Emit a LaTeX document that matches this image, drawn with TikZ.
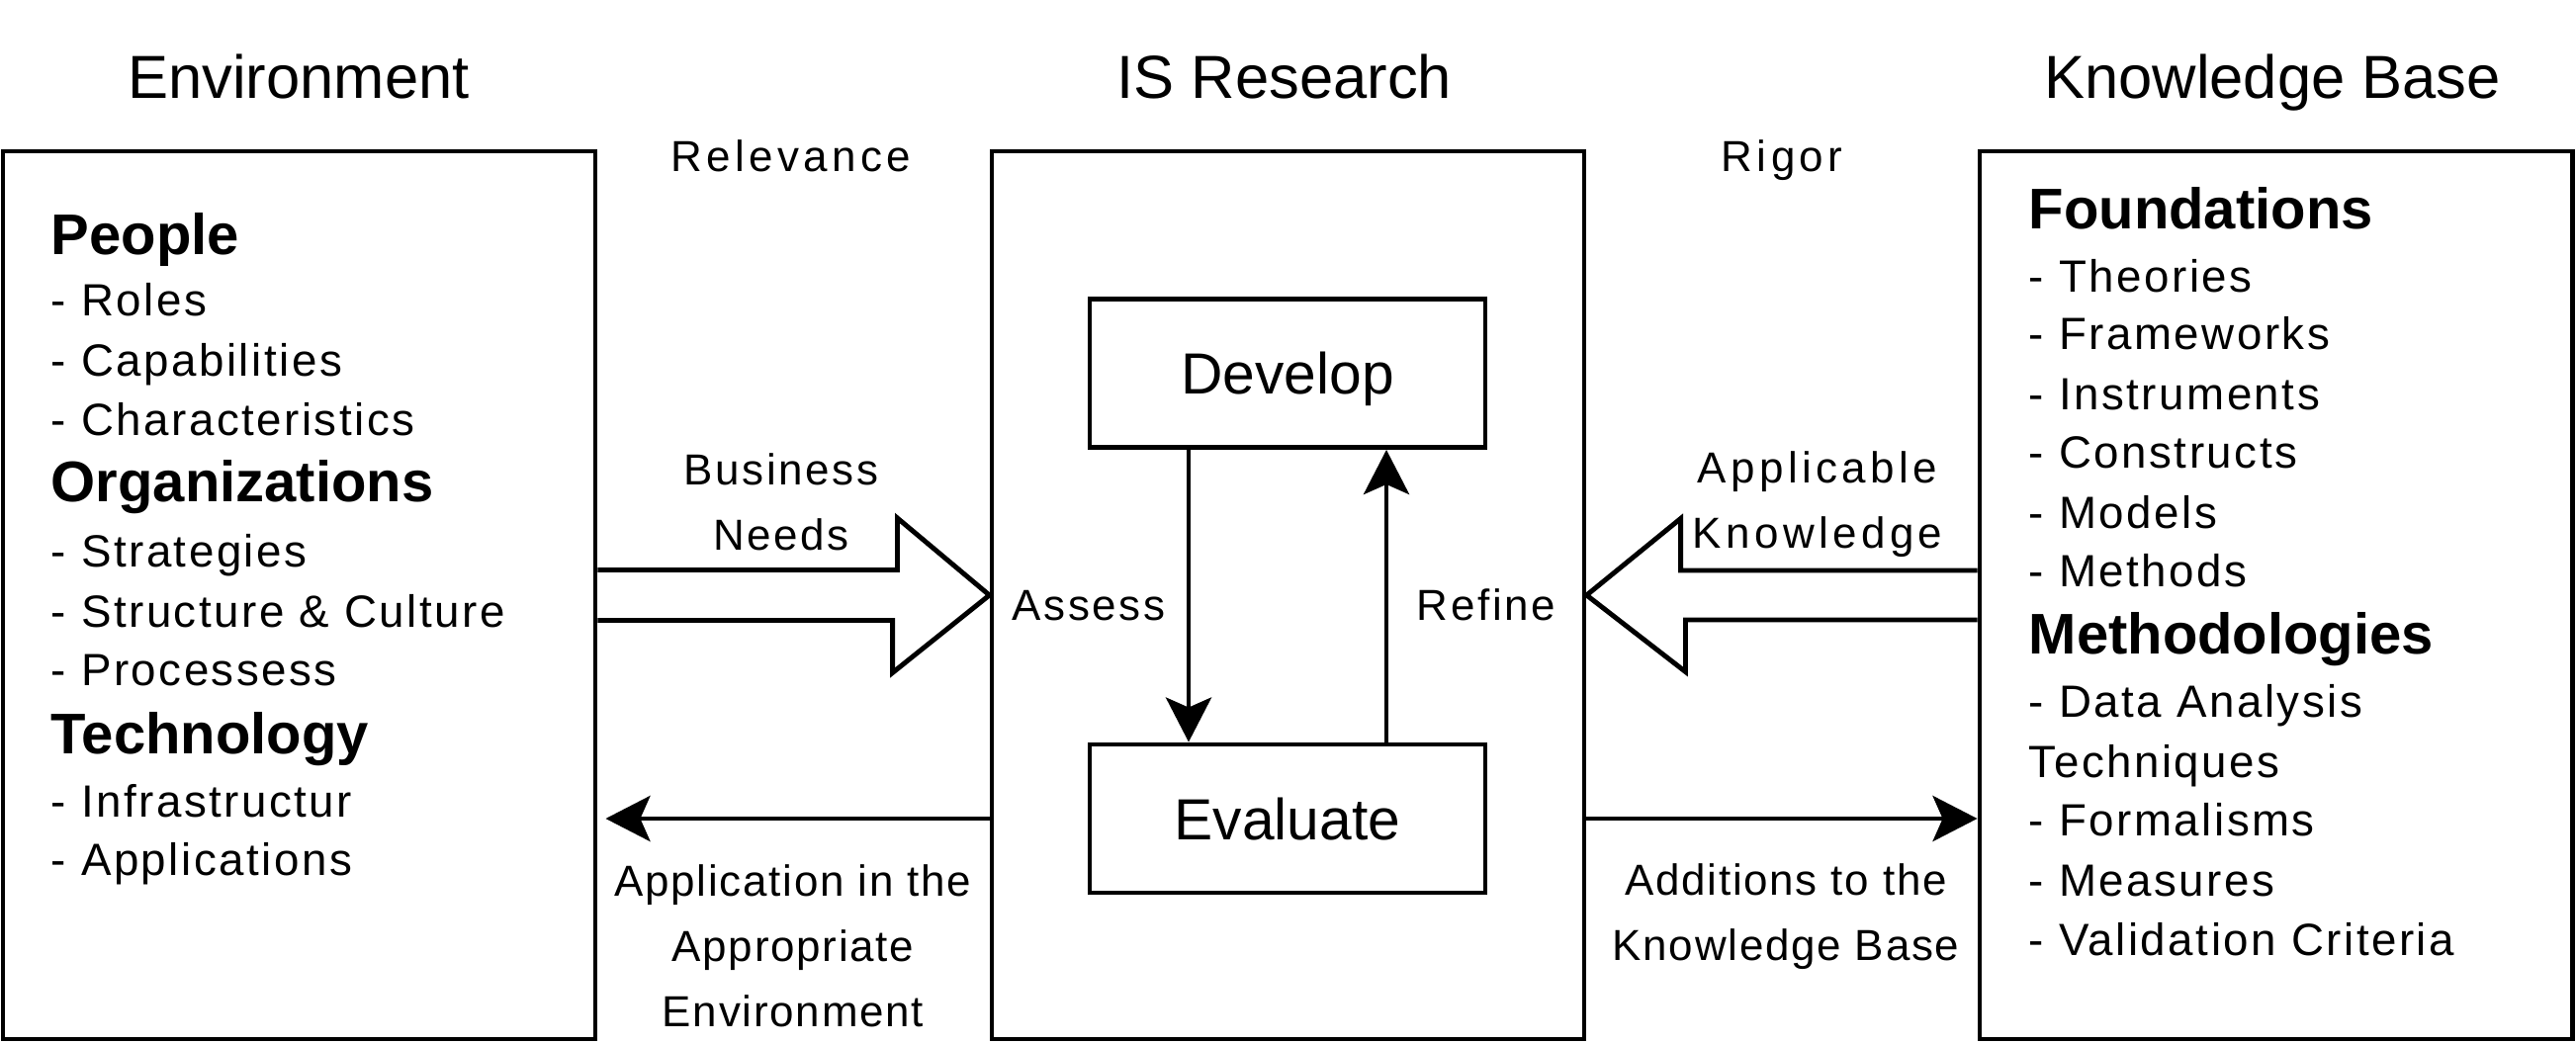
\documentclass[tikz,border=0pt]{standalone}
\usepackage{fontspec}
\setmainfont{Liberation Sans}
\newfontfamily\itemfont[LetterSpace=5.5]{Liberation Sans}
\newfontfamily\lblfont[LetterSpace=6]{Liberation Sans}
\newfontfamily\tagfont[LetterSpace=10]{Liberation Sans}
\newfontfamily\notefont[LetterSpace=4]{Liberation Sans}
\usetikzlibrary{arrows.meta,positioning}

\tikzset{
  box/.style={draw, line width=1.4pt, minimum width=5.99cm, minimum height=8.98cm, inner sep=0pt},
  proc/.style={draw, line width=1.4pt, minimum width=4cm, minimum height=1.5cm, text depth=0pt, font=\fontsize{16.7}{20}\selectfont},
  title/.style={anchor=base, inner sep=0pt, font=\fontsize{17.5}{21}\selectfont},
  head/.style={anchor=base west, inner sep=0pt, font=\fontsize{16.5}{20}\selectfont\bfseries},
  item/.style={anchor=base west, inner sep=0pt, font=\itemfont\fontsize{13}{16}\selectfont},
  lbl/.style={anchor=base, inner sep=0pt, align=center, font=\lblfont\fontsize{12.5}{18.7}\selectfont},
  tag/.style={lbl, font=\tagfont\fontsize{12.5}{18.7}\selectfont},
  note/.style={lbl, font=\notefont\fontsize{12.5}{18.7}\selectfont},
  flow/.style={line width=1.4pt, -{Stealth[length=4.5mm, width=4.6mm, inset=1mm]}},
  fat/.style={line width=1.4pt, line join=miter}
}

\begin{document}
\begin{tikzpicture}
        \useasboundingbox (0,0) rectangle (26.05,10.55);
        % the three columns
        \node[box] (env) at (3.025,4.53) {};
        \node[box] (isr) at (13.025,4.53) {};
        \node[box] (kb) at (23.015,4.53) {};
        \node[title] (envt) at (3.02,9.56) {Environment};
        \node[title] (isrt) at (12.99,9.56) {IS Research};
        \node[title] (kbt) at (22.98,9.56) {Knowledge Base};

        % develop / evaluate loop
        \node[proc] (dev) at (13.02,6.775) {Develop};
        \node[proc] (eval) at (13.02,2.27) {Evaluate};
        \draw[flow] ([xshift=-1cm]dev.south) -- ([xshift=-1cm]eval.north);
        \draw[flow] ([xshift=1cm]eval.north) -- ([xshift=1cm]dev.south);
        \node[lbl] (assess) at (11.01,4.28) {Assess};
        \node[lbl] (refine) at (15.03,4.28) {Refine};

        % environment list
        \node[head] (people) at (0.51,7.98) {People};
        \node[head] (orga) at (0.51,5.48) {Organizations};
        \node[head] (tech) at (0.51,2.93) {Technology};
        \foreach \y/\t [count=\i] in {7.36/Roles, 6.75/Capabilities, 6.15/Characteristics,
                4.82/Strategies, 4.21/Structure \& Culture, 3.62/Processess,
                2.29/Infrastructur, 1.70/Applications}
            \node[item] (env\i) at (0.51,\y) {- \t};

        % knowledge base list
        \node[head] (found) at (20.51,8.24) {Foundations};
        \node[head] (meth) at (20.51,3.94) {Methodologies};
        \foreach \y/\t [count=\i] in {7.60/- Theories, 7.02/- Frameworks, 6.41/- Instruments,
                5.82/- Constructs, 5.21/- Models, 4.62/- Methods, 3.30/- Data Analysis,
                2.69/Techniques, 2.10/- Formalisms, 1.49/- Measures, 0.89/- Validation Criteria}
            \node[item] (kb\i) at (20.51,\y) {\t};

        % relevance side
        \node[tag] (rel) at (8.0,8.82) {Relevance};
        \draw[fat] ([yshift=2.55mm]env.east) -- ++(3.03,0) -- ++(0,0.525) -- (isr.west)
            -- ++(-0.98,-0.785) -- ++(0,0.53) -- ([yshift=-2.55mm]env.east);
        \node[lbl] (needs) at (7.90,4.99) {Business\\Needs};
        \draw[flow] ([yshift=-2.26cm]isr.west) -- ([yshift=-2.26cm,xshift=0.08cm]env.east);
        \node[note] (appl) at (8.02,0.17) {Application in the\\Appropriate\\Environment};

        % rigor side
        \node[tag] (rig) at (18.02,8.82) {Rigor};
        \draw[fat] ([yshift=2.5mm]kb.west) -- ++(-3.0,0) -- ++(0,0.525) -- (isr.east)
            -- ++(1.0,-0.775) -- ++(0,0.525) -- ([yshift=-2.5mm]kb.west);
        \node[tag] (know) at (18.38,5.01) {Applicable\\Knowledge};
        \draw[flow] ([yshift=-2.26cm]isr.east) -- ([yshift=-2.26cm]kb.west);
        \node[note] (add) at (18.06,0.84) {Additions to the\\Knowledge Base};
    \end{tikzpicture}
\end{document}
